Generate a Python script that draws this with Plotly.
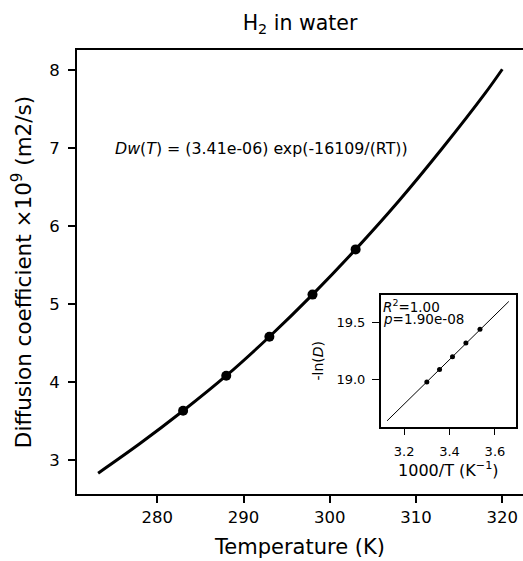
import plotly.graph_objects as go

# Arrhenius fit curve, T in K, D in 1e-9 m2/s
T_curve = [273.15, 278, 283, 288, 293, 298, 303, 308, 313, 318, 320]
D_curve = [2.83, 3.21, 3.63, 4.08, 4.58, 5.12, 5.70, 6.32, 6.99, 7.70, 8.01]

# measured points
T_meas = [283, 288, 293, 298, 303]
D_meas = [3.63, 4.08, 4.58, 5.12, 5.70]

# inset: -ln(D) vs 1000/T
invT_meas = [3.534, 3.472, 3.413, 3.356, 3.300]
negln_meas = [19.44, 19.32, 19.20, 19.09, 18.98]
invT_fit = [3.125, 3.661]
negln_fit = [18.643, 19.681]

x_ticks = [280, 290, 300, 310, 320]
y_ticks = [3, 4, 5, 6, 7, 8]
inset_x_ticks = [3.2, 3.4, 3.6]
inset_y_ticks = [19.0, 19.5]

FONT = "DejaVu Sans"

fig = go.Figure()
fig.add_trace(go.Scatter(x=T_curve, y=D_curve, mode="lines", line=dict(color="black", width=3, shape="spline"),
                         xaxis="x", yaxis="y", showlegend=False))
fig.add_trace(go.Scatter(x=T_meas, y=D_meas, mode="markers", marker=dict(color="black", size=10),
                         xaxis="x", yaxis="y", showlegend=False))
fig.add_trace(go.Scatter(x=invT_fit, y=negln_fit, mode="lines", line=dict(color="black", width=1),
                         xaxis="x2", yaxis="y2", showlegend=False))
fig.add_trace(go.Scatter(x=invT_meas, y=negln_meas, mode="markers", marker=dict(color="black", size=5),
                         xaxis="x2", yaxis="y2", showlegend=False))

axis_common = dict(showgrid=False, zeroline=False, showline=True, linecolor="black",
                   ticks="outside", tickcolor="black")

fig.update_layout(
    width=523, height=561,
    margin=dict(l=77, r=0, t=50, b=67),
    paper_bgcolor="white", plot_bgcolor="white",
    font=dict(family=FONT, color="black"),
    title=dict(text="H<sub>2</sub> in water", x=0.5, xref="paper", y=1 - 23 / 561, yref="container",
               xanchor="center", yanchor="middle", font=dict(size=20.5, family=FONT)),
    xaxis=dict(**axis_common, domain=[0, 1], range=[270.7, 322.4], tickvals=x_ticks,
               linewidth=2, tickwidth=1.5, ticklen=7, mirror=True, tickfont=dict(size=16.5),
               title=dict(text="Temperature (K)", font=dict(size=21), standoff=14)),
    yaxis=dict(**axis_common, domain=[0, 1], range=[2.563, 8.257], tickvals=y_ticks,
               linewidth=2, tickwidth=1.5, ticklen=7, tickfont=dict(size=16.5), ticklabelstandoff=5,
               title=dict(text="Diffusion coefficient ×10<sup>9</sup> (m2/s)", font=dict(size=21.5), standoff=12)),
    xaxis2=dict(**axis_common, domain=[0.681, 0.984], anchor="y2", range=[3.097, 3.692],
                tickvals=inset_x_ticks, tickformat=".1f", linewidth=1.5, tickwidth=1.2, ticklen=7,
                mirror=True, tickfont=dict(size=13), ticklabelstandoff=5,
                title=dict(text="1000/T (K<sup>−1</sup>)", font=dict(size=16), standoff=6)),
    yaxis2=dict(**axis_common, domain=[0.1516, 0.4489], anchor="x2", range=[18.592, 19.74],
                tickvals=inset_y_ticks, tickformat=".1f", linewidth=1.5, tickwidth=1.2, ticklen=7,
                mirror=True, tickfont=dict(size=13), ticklabelstandoff=4,
                title=dict(text="-ln(<i>D</i>)", font=dict(size=14), standoff=10)),
    annotations=[
        dict(text="<i>Dw</i>(<i>T</i>) = (3.41e-06) exp(-16109/(RT))", xref="x", yref="y",
             x=274.9, y=7.0, xanchor="left", yanchor="middle", showarrow=False,
             font=dict(size=15.8, family=FONT)),
        dict(text="<i>R</i><sup>2</sup>=1.00", xref="x2", yref="y2", x=3.097, y=19.64,
             xanchor="left", yanchor="middle", showarrow=False, font=dict(size=13.5, family=FONT)),
        dict(text="<i>p</i>=1.90e-08", xref="x2", yref="y2", x=3.097, y=19.53,
             xanchor="left", yanchor="middle", showarrow=False, font=dict(size=13.5, family=FONT)),
    ],
)

fig.write_html("out.html")
